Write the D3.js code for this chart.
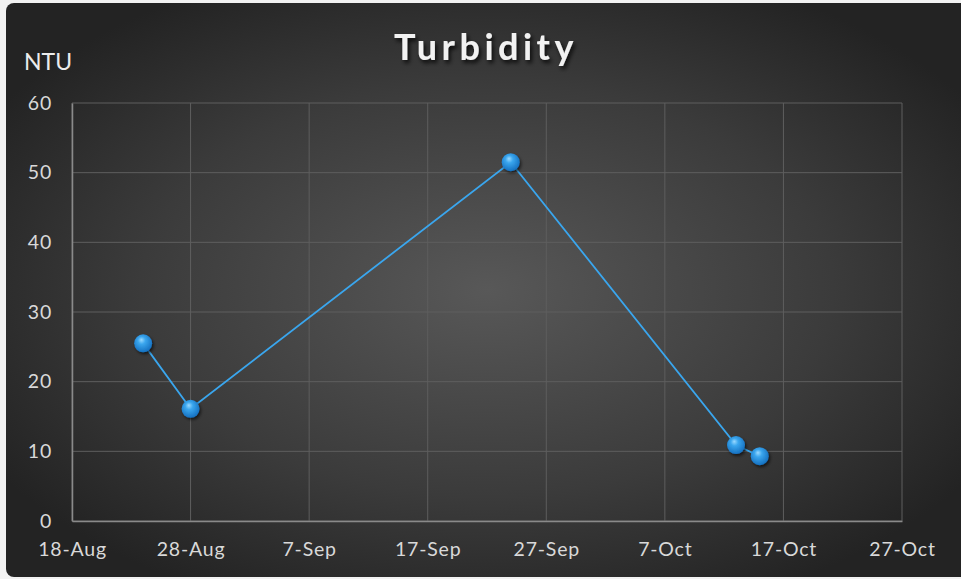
<!DOCTYPE html>
<html><head><meta charset="utf-8">
<script src="https://cdn.jsdelivr.net/npm/d3@7"></script>
<style>
html,body{margin:0;padding:0;background:#f2f2f2;}
svg{display:block;}
</style></head>
<body>
<svg id="chart" width="961" height="579"></svg>
<script>
const dates = ["2013-08-24","2013-08-28","2013-09-24","2013-10-13","2013-10-15"];
const values = [25.5, 16.1, 51.5, 10.9, 9.3];
const xTickDates = ["2013-08-18","2013-08-28","2013-09-07","2013-09-17","2013-09-27","2013-10-07","2013-10-17","2013-10-27"];
const yTicks = [0,10,20,30,40,50,60];
const title = "Turbidity";
const yLabel = "NTU";

const parse = d3.timeParse("%Y-%m-%d");
const fmt = d3.timeFormat("%-d-%b");
const svg = d3.select("#chart");
const font = "Lato, 'Open Sans', sans-serif";

const defs = svg.append("defs");
const bg = defs.append("radialGradient").attr("id","bg").attr("cx","0.5").attr("cy","0.5").attr("r","0.6");
bg.append("stop").attr("offset","0").attr("stop-color","#585858");
bg.append("stop").attr("offset","0.6").attr("stop-color","#3b3b3b");
bg.append("stop").attr("offset","1").attr("stop-color","#232323");
const mk = defs.append("radialGradient").attr("id","mk").attr("cx","0.45").attr("cy","0.4").attr("r","0.6").attr("fx","0.4").attr("fy","0.3");
mk.append("stop").attr("offset","0").attr("stop-color","#9ad9ff");
mk.append("stop").attr("offset","0.35").attr("stop-color","#3aa6ee");
mk.append("stop").attr("offset","1").attr("stop-color","#1570c0");
const sh = defs.append("filter").attr("id","sh").attr("x","-50%").attr("y","-50%").attr("width","200%").attr("height","200%");
sh.append("feDropShadow").attr("dx",1.5).attr("dy",2).attr("stdDeviation",1.5).attr("flood-color","#000").attr("flood-opacity",0.6);
const tsh = defs.append("filter").attr("id","tsh").attr("x","-20%").attr("y","-50%").attr("width","140%").attr("height","200%");
tsh.append("feDropShadow").attr("dx",2).attr("dy",3).attr("stdDeviation",2).attr("flood-color","#000").attr("flood-opacity",0.8);

svg.append("rect").attr("x",6).attr("y",3).attr("width",962).attr("height",574).attr("rx",8).attr("fill","url(#bg)");

const x = d3.scaleTime().domain([parse(xTickDates[0]), parse(xTickDates[xTickDates.length-1])]).range([72,902]);
const y = d3.scaleLinear().domain([0,60]).range([521,103]);

// gridlines
const grid = svg.append("g");
grid.selectAll("line.v").data(xTickDates.map(parse)).join("line")
  .attr("x1",d=>x(d)).attr("x2",d=>x(d)).attr("y1",103).attr("y2",521)
  .attr("stroke","#5e5e5e").attr("stroke-width",1);
grid.selectAll("line.h").data(yTicks).join("line")
  .attr("x1",72).attr("x2",902).attr("y1",d=>y(d)).attr("y2",d=>y(d))
  .attr("stroke","#5e5e5e").attr("stroke-width",1);

// axes
const xAxis = svg.append("g").attr("transform","translate(0,521)")
  .call(d3.axisBottom(x).tickValues(xTickDates.map(parse)).tickFormat(fmt).tickSize(0).tickPadding(21));
xAxis.select(".domain").attr("stroke","#8a8a8a").attr("stroke-width",1.5);
xAxis.selectAll("text").attr("fill","#d9d9d9").style("font-family",font).style("font-size","19.5px").style("letter-spacing","0.8px");

const yAxis = svg.append("g").attr("transform","translate(72,0)")
  .call(d3.axisLeft(y).tickValues(yTicks).tickSize(0).tickPadding(20));
yAxis.select(".domain").attr("stroke","#8a8a8a").attr("stroke-width",1.5);
yAxis.selectAll("text").attr("fill","#d9d9d9").style("font-family",font).style("font-size","19.5px").style("letter-spacing","0.8px");

// line
const pts = dates.map((d,i)=>({d:parse(d), v:values[i]}));
svg.append("path").datum(pts)
  .attr("d", d3.line().x(p=>x(p.d)).y(p=>y(p.v)))
  .attr("fill","none").attr("stroke","#3aa6ee").attr("stroke-width",1.8);
svg.selectAll("circle.m").data(pts).join("circle")
  .attr("cx",p=>x(p.d)).attr("cy",p=>y(p.v)).attr("r",9)
  .attr("fill","url(#mk)").attr("filter","url(#sh)");

// title & label
svg.append("text").attr("x",486).attr("y",60).attr("text-anchor","middle")
  .attr("fill","#f2f2f2").attr("filter","url(#tsh)")
  .style("font-family",font).style("font-weight","bold").style("font-size","36px").style("letter-spacing","4.5px")
  .text(title);
svg.append("text").attr("x",24).attr("y",70)
  .attr("fill","#ececec").style("font-family",font).style("font-size","23px")
  .text(yLabel);
</script>
</body></html>
